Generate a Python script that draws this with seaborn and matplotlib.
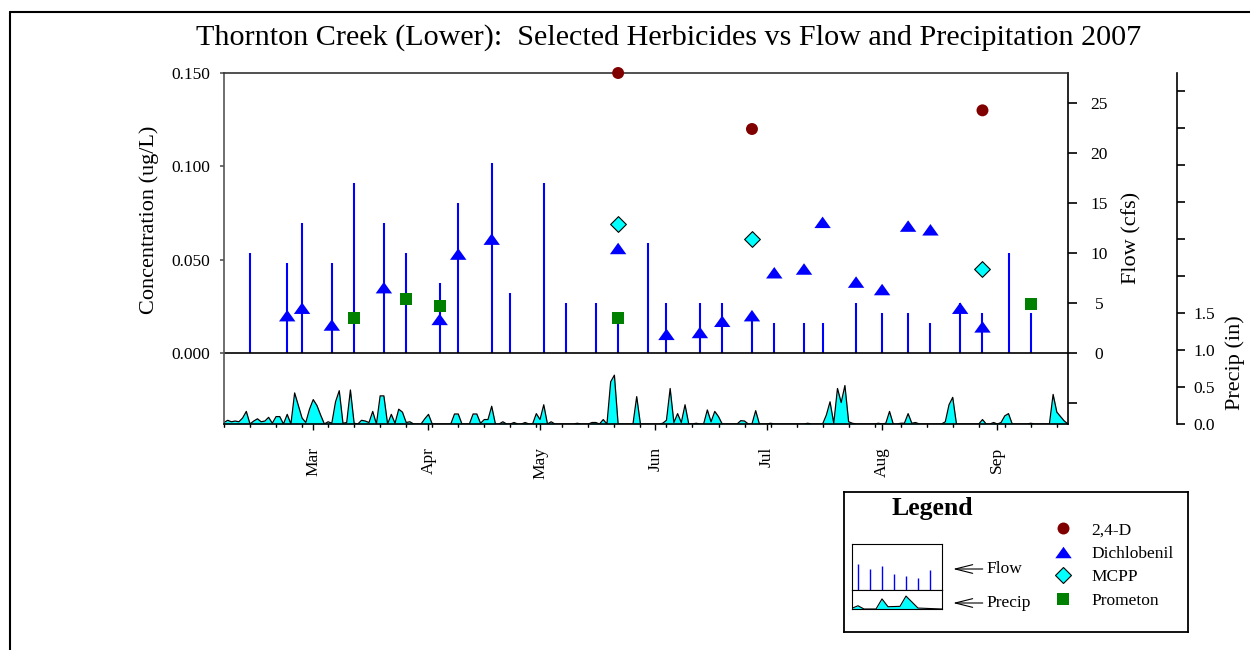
import matplotlib
matplotlib.use('Agg')
import matplotlib.pyplot as plt
import matplotlib.dates as mdates
from matplotlib.lines import Line2D
from matplotlib.ticker import FormatStrFormatter
import numpy as np
import pandas as pd
import seaborn as sns

# Flow (cfs) on site-visit days
flow_dates = ['2007-02-12', '2007-02-22', '2007-02-26', '2007-03-06', '2007-03-12',
              '2007-03-20', '2007-03-26', '2007-04-04', '2007-04-09', '2007-04-18',
              '2007-04-23', '2007-05-02', '2007-05-08', '2007-05-16', '2007-05-22',
              '2007-05-30', '2007-06-04', '2007-06-13', '2007-06-19', '2007-06-27',
              '2007-07-03', '2007-07-11', '2007-07-16', '2007-07-25', '2007-08-01',
              '2007-08-08', '2007-08-14', '2007-08-22', '2007-08-28', '2007-09-04',
              '2007-09-10']
flow_cfs = [10, 9, 13, 9, 17, 13, 10, 7, 15, 19, 6, 17, 5, 5, 4, 11, 5, 5, 5, 4,
            3, 3, 3, 5, 4, 4, 3, 5, 4, 10, 4]

# Herbicide detections (ug/L)
d24_dates = ['2007-05-22', '2007-06-27', '2007-08-28']
d24_conc = [0.150, 0.120, 0.130]

dichlobenil_dates = ['2007-02-22', '2007-02-26', '2007-03-06', '2007-03-20', '2007-04-04',
                     '2007-04-09', '2007-04-18', '2007-05-22', '2007-06-04', '2007-06-13',
                     '2007-06-19', '2007-06-27', '2007-07-03', '2007-07-11', '2007-07-16',
                     '2007-07-25', '2007-08-01', '2007-08-08', '2007-08-14', '2007-08-22',
                     '2007-08-28']
dichlobenil_conc = [0.020, 0.024, 0.015, 0.035, 0.018, 0.053, 0.061, 0.056, 0.010, 0.011,
                    0.017, 0.020, 0.043, 0.045, 0.070, 0.038, 0.034, 0.068, 0.066, 0.024,
                    0.014]

mcpp_dates = ['2007-05-22', '2007-06-27', '2007-08-28']
mcpp_conc = [0.069, 0.061, 0.045]

prometon_dates = ['2007-03-12', '2007-03-26', '2007-04-04', '2007-05-22', '2007-09-10']
prometon_conc = [0.019, 0.029, 0.025, 0.019, 0.026]

# Daily precipitation (in), 2007-02-05 .. 2007-09-20
precip_start = '2007-02-05'
precip_in = [
    0.02, 0.05, 0.03, 0.04, 0.03, 0.08, 0.17, 0.00, 0.04, 0.07,
    0.03, 0.04, 0.09, 0.01, 0.10, 0.10, 0.00, 0.13, 0.00, 0.42,
    0.25, 0.08, 0.02, 0.20, 0.33, 0.25, 0.12, 0.00, 0.03, 0.01,
    0.30, 0.45, 0.01, 0.02, 0.46, 0.01, 0.00, 0.05, 0.04, 0.02,
    0.17, 0.00, 0.38, 0.38, 0.00, 0.13, 0.01, 0.20, 0.16, 0.02,
    0.03, 0.00, 0.00, 0.00, 0.07, 0.13, 0.00, 0.00, 0.00, 0.00,
    0.00, 0.00, 0.135, 0.135, 0.00, 0.00, 0.00, 0.135, 0.135, 0.01,
    0.06, 0.06, 0.24, 0.00, 0.00, 0.03, 0.00, 0.00, 0.02, 0.00,
    0.00, 0.02, 0.00, 0.00, 0.14, 0.06, 0.26, 0.00, 0.03, 0.00,
    0.00, 0.00, 0.00, 0.00, 0.00, 0.01, 0.00, 0.00, 0.00, 0.02,
    0.02, 0.00, 0.06, 0.00, 0.57, 0.66, 0.00, 0.00, 0.00, 0.00,
    0.00, 0.37, 0.00, 0.00, 0.00, 0.00, 0.00, 0.00, 0.01, 0.05,
    0.48, 0.02, 0.14, 0.02, 0.26, 0.00, 0.00, 0.01, 0.00, 0.00,
    0.19, 0.03, 0.17, 0.10, 0.00, 0.00, 0.00, 0.00, 0.00, 0.045,
    0.04, 0.00, 0.00, 0.18, 0.00, 0.00, 0.00, 0.01, 0.00, 0.00,
    0.00, 0.00, 0.00, 0.00, 0.00, 0.00, 0.00, 0.01, 0.00, 0.00,
    0.00, 0.00, 0.12, 0.30, 0.01, 0.48, 0.29, 0.52, 0.03, 0.01,
    0.00, 0.00, 0.00, 0.00, 0.00, 0.00, 0.01, 0.00, 0.01, 0.17,
    0.00, 0.00, 0.01, 0.01, 0.14, 0.01, 0.02, 0.00, 0.00, 0.00,
    0.00, 0.00, 0.00, 0.00, 0.03, 0.26, 0.36, 0.00, 0.00, 0.00,
    0.00, 0.00, 0.00, 0.00, 0.06, 0.00, 0.00, 0.02, 0.00, 0.02,
    0.11, 0.14, 0.00, 0.00, 0.00, 0.00, 0.00, 0.01, 0.00, 0.00,
    0.00, 0.00, 0.00, 0.40, 0.16, 0.10, 0.04, 0.00,
]

# Sample drawing inside the legend box
legend_flow_x = [1, 2, 3, 4, 5, 6, 7]
legend_flow_h = [0.565, 0.457, 0.522, 0.348, 0.304, 0.261, 0.435]
legend_precip_x = [0.5, 1.0, 1.5, 2.5, 3.0, 3.5, 4.5, 5.0, 6.0, 8.0]
legend_precip_h = [0.04, 0.17, 0.0, 0.0, 0.53, 0.12, 0.14, 0.68, 0.05, 0.0]

compounds = ['2,4-D', 'Dichlobenil', 'MCPP', 'Prometon']
samples = pd.concat([
    pd.DataFrame({'date': pd.to_datetime(d24_dates), 'compound': '2,4-D', 'conc': d24_conc}),
    pd.DataFrame({'date': pd.to_datetime(dichlobenil_dates), 'compound': 'Dichlobenil',
                  'conc': dichlobenil_conc}),
    pd.DataFrame({'date': pd.to_datetime(mcpp_dates), 'compound': 'MCPP', 'conc': mcpp_conc}),
    pd.DataFrame({'date': pd.to_datetime(prometon_dates), 'compound': 'Prometon',
                  'conc': prometon_conc}),
], ignore_index=True)
flow = pd.DataFrame({'date': pd.to_datetime(flow_dates), 'cfs': flow_cfs})
precip = pd.DataFrame({'date': pd.date_range(precip_start, periods=len(precip_in), freq='D'),
                       'inches': precip_in})

# marker styles
tri = [(-1, -0.7), (1, -0.7), (0, 0.7)]
styles = {
    '2,4-D': dict(marker='o', color='#800000', s=74, ec='none', lw=0),
    'Dichlobenil': dict(marker=tri, color='#0000FF', s=140, ec='none', lw=0),
    'MCPP': dict(marker='D', color='#00FFFF', s=64, ec='black', lw=0.8),
    'Prometon': dict(marker='s', color='#008000', s=74, ec='none', lw=0),
}

sns.set_style('ticks')
plt.rcParams['font.family'] = ['Liberation Serif', 'DejaVu Serif']
plt.rcParams['text.color'] = 'black'
plt.rcParams['xtick.color'] = 'black'
plt.rcParams['ytick.color'] = 'black'
plt.rcParams['axes.edgecolor'] = 'black'

W, H = 1250, 650


def fx(px):
    return px / W


def fy(py):
    return 1 - py / H


fig = plt.figure(figsize=(12.5, 6.5), dpi=100)

# page frame (only top and left edges visible)
fig.add_artist(Line2D([fx(10), fx(10)], [fy(12), 0], color='black', lw=1.5,
                      transform=fig.transFigure))
fig.add_artist(Line2D([fx(10), 1], [fy(12), fy(12)], color='black', lw=1.5,
                      transform=fig.transFigure))

rect = [fx(224), fy(424), (1068 - 224) / W, (424 - 73) / H]
ax_p = fig.add_axes(rect)
ax_f = fig.add_axes(rect, sharex=ax_p)
ax_c = fig.add_axes(rect, sharex=ax_p)
for a in (ax_p, ax_f, ax_c):
    a.patch.set_visible(False)
    for s in a.spines.values():
        s.set_visible(False)

# precipitation (bottom strip)
ax_p.fill_between(precip['date'], precip['inches'], 0, color='#00FFFF', lw=0)
sns.lineplot(data=precip, x='date', y='inches', color='black', lw=0.9, ax=ax_p)
ax_p.set_ylim(0, 351 / 74)
ax_p.set_yticks(np.arange(0, 4.51, 0.5))
ax_p.set_yticklabels(['0.0', '0.5', '1.0', '1.5'] + [''] * 6)
ax_p.yaxis.tick_right()
ax_p.spines['right'].set_visible(True)
ax_p.spines['right'].set_position(('axes', 1 + 109 / 844))
ax_p.spines['right'].set_linewidth(1.2)
ax_p.tick_params(axis='y', length=5.8, width=1.2, pad=5.8, labelsize=12.5)
ax_p.tick_params(axis='x', bottom=False, labelbottom=False)
ax_p.set_xlabel('')
ax_p.set_ylabel('')

# flow stems
ax_f.vlines(flow['date'], 0, flow['cfs'], color='#0000FF', lw=1.5)
ax_f.axhline(0, color='black', lw=1.2)
ax_f.set_ylim(-7.1, 28)
ax_f.yaxis.tick_right()
ax_f.set_yticks(range(-5, 30, 5))
ax_f.set_yticklabels([''] + [str(v) for v in range(0, 30, 5)])
ax_f.spines['right'].set_visible(True)
ax_f.spines['right'].set_linewidth(1.2)
ax_f.tick_params(axis='y', length=6.5, width=1.2, pad=15.8, labelsize=12.5)
ax_f.tick_params(axis='x', bottom=False, labelbottom=False)
for lab in ax_f.get_yticklabels():
    lab.set_horizontalalignment('center')

# herbicide concentrations
for name in compounds:
    st = styles[name]
    sns.scatterplot(data=samples[samples['compound'] == name], x='date', y='conc',
                    marker=st['marker'], color=st['color'], s=st['s'],
                    edgecolor=st['ec'], linewidth=st['lw'], ax=ax_c,
                    clip_on=False, zorder=3, legend=False)
ax_c.set_ylim(-0.15 * 71 / 280, 0.15)
ax_c.set_yticks([0, 0.05, 0.10, 0.15])
ax_c.yaxis.set_major_formatter(FormatStrFormatter('%.3f'))
ax_c.set_xlim(pd.Timestamp('2007-02-05'), pd.Timestamp('2007-09-20'))
ax_c.xaxis.set_major_locator(mdates.MonthLocator())
ax_c.xaxis.set_major_formatter(mdates.DateFormatter('%b'))
ax_c.xaxis.set_minor_locator(mdates.WeekdayLocator(byweekday=mdates.MO))
for side in ('left', 'top', 'bottom'):
    ax_c.spines[side].set_visible(True)
    ax_c.spines[side].set_linewidth(1.2)
ax_c.spines['left'].set_color('#555555')
ax_c.spines['top'].set_color('#333333')
ax_c.tick_params(axis='y', length=3.2, width=1.2, pad=6.5, labelsize=12.5, color='#555555')
ax_c.tick_params(axis='x', which='major', length=4.3, width=1, pad=12.2, labelsize=12.5,
                 labelrotation=90)
ax_c.tick_params(axis='x', which='minor', length=2.2, width=1)
ax_c.set_xlabel('')
ax_c.set_ylabel('')

# titles and axis labels
fig.text(fx(669), fy(45), 'Thornton Creek (Lower):  Selected Herbicides vs Flow and Precipitation 2007',
         ha='center', va='baseline', fontsize=21.7)
fig.text(fx(149), fy(220), 'Concentration (ug/L)', rotation=90, ha='center', va='center',
         fontsize=16)
fig.text(fx(1132), fy(238), 'Flow (cfs)', rotation=90, ha='center', va='center', fontsize=16)
fig.text(fx(1235), fy(363), 'Precip (in)', rotation=90, ha='center', va='center', fontsize=16)

# legend box
ax_leg = fig.add_axes([fx(844), fy(632), (1188 - 844) / W, (632 - 492) / H])
ax_leg.set_xticks([])
ax_leg.set_yticks([])
for s in ax_leg.spines.values():
    s.set_linewidth(1.3)
    s.set_color('black')
ax_leg.text((932 - 844) / 344, (632 - 509) / 140, 'Legend', transform=ax_leg.transAxes,
            ha='center', va='center', fontsize=18.5, fontweight='bold')

ax_mf = fig.add_axes([fx(852), fy(590), 90 / W, 46 / H])
ax_mf.vlines(legend_flow_x, 0, legend_flow_h, color='#0000FF', lw=1)
ax_mf.set_xlim(0.5, 8)
ax_mf.set_ylim(0, 1)
ax_mp = fig.add_axes([fx(852), fy(609), 90 / W, 19 / H])
ax_mp.fill_between(legend_precip_x, legend_precip_h, 0, color='#00FFFF', lw=0)
ax_mp.plot(legend_precip_x, legend_precip_h, color='black', lw=0.8)
ax_mp.set_xlim(0.5, 8)
ax_mp.set_ylim(0, 1)
for a in (ax_mf, ax_mp):
    a.set_xticks([])
    a.set_yticks([])
    for s in a.spines.values():
        s.set_linewidth(0.8)
        s.set_color('black')

arrow = dict(arrowstyle='->,head_length=1.0,head_width=0.25', color='black', lw=0.8,
             shrinkA=0, shrinkB=0)
ax_leg.annotate('Flow', xy=(953, H - 569), xycoords='figure pixels', xytext=(986, H - 569),
                textcoords='figure pixels', ha='left', va='center', fontsize=12.5,
                arrowprops=arrow)
ax_leg.annotate('Precip', xy=(953, H - 603), xycoords='figure pixels', xytext=(986, H - 603),
                textcoords='figure pixels', ha='left', va='center', fontsize=12.5,
                arrowprops=arrow)

handles = [Line2D([], [], ls='none', marker=styles[n]['marker'], color=styles[n]['color'],
                  markersize=np.sqrt(styles[n]['s']),
                  markeredgecolor=styles[n]['ec'] if styles[n]['ec'] != 'none' else styles[n]['color'],
                  markeredgewidth=styles[n]['lw'])
           for n in compounds]
ax_leg.legend(handles, compounds, loc='upper left', bbox_to_anchor=(fx(1054), fy(522)),
              bbox_transform=fig.transFigure, frameon=False, fontsize=12.5,
              handlelength=1.0, handletextpad=1.17, labelspacing=0.43,
              borderpad=0, borderaxespad=0)

fig.savefig('out.png', dpi=100)
